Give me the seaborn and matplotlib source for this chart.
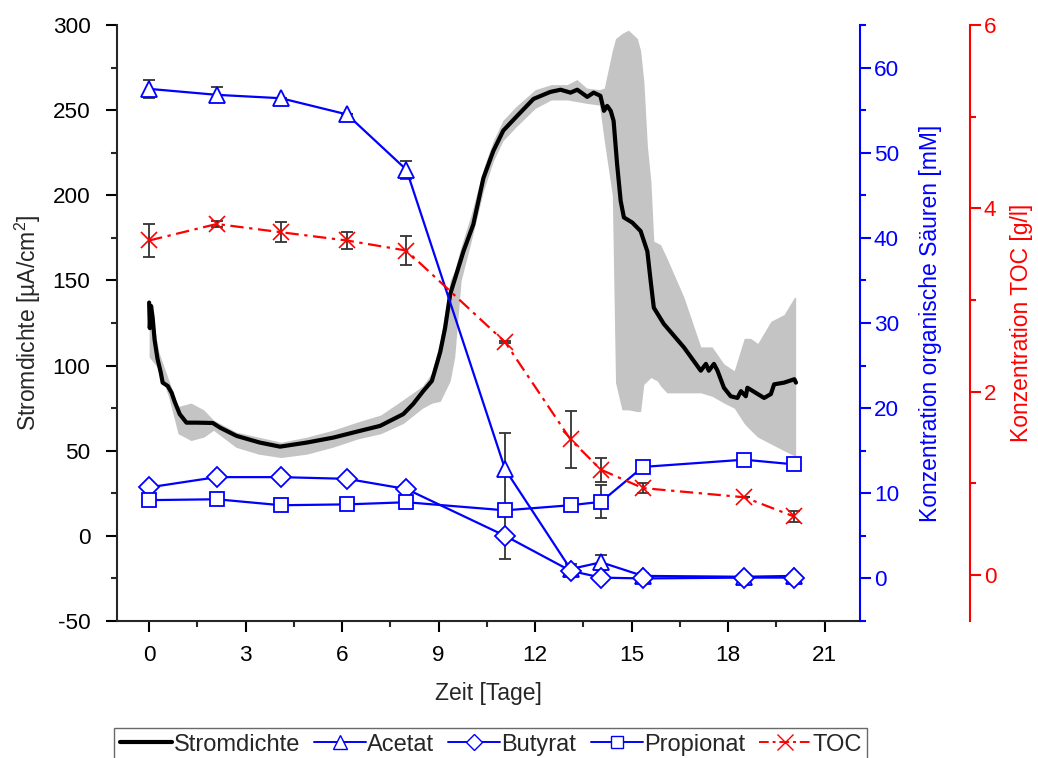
import matplotlib
matplotlib.use("Agg")
import matplotlib.pyplot as plt
import seaborn as sns
import numpy as np
from matplotlib.lines import Line2D
from matplotlib.ticker import MultipleLocator

# ---------------- data ----------------
# current density (Stromdichte) mean curve, µA/cm²
t_cd = [0.0, 0.02, 0.06, 0.11, 0.17, 0.26, 0.36, 0.42, 0.58, 0.70, 0.79, 0.95, 1.16, 1.47, 1.98,
        2.2, 2.72, 3.44, 4.07, 4.9, 5.72, 6.56, 7.18, 7.9, 8.21, 8.52, 8.79, 9.05, 9.2, 9.36,
        9.52, 9.77, 10.08, 10.39, 10.7, 11.01, 11.44, 11.95, 12.47, 12.79, 13.1, 13.31, 13.62,
        13.82, 14.03, 14.14, 14.24, 14.35, 14.44, 14.55, 14.66, 14.76, 15.02, 15.28, 15.49,
        15.59, 15.69, 16.0, 16.63, 17.15, 17.31, 17.4, 17.56, 17.67, 17.87, 18.08, 18.29, 18.4,
        18.55, 18.6, 18.92, 19.12, 19.33, 19.43, 19.74, 20.06, 20.11]
cd_mean = [137, 122, 135, 128, 115, 104, 96, 90, 88, 84, 79, 71.5, 66.5, 66.5, 66.3,
           63.6, 58.7, 54.8, 52.4, 54.8, 57.7, 61.7, 64.6, 71.5, 77.5, 85, 91, 108, 122, 142,
           151.7, 167, 183, 210, 226, 238, 246.6, 256.6, 260.7, 262, 260.3, 262, 257.8,
           260.3, 258.4, 249.6, 252.5, 249.6, 243.7, 218, 196.7, 187, 184, 179, 167,
           150, 134, 124.5, 110.6, 97, 101, 97, 101, 97, 87, 82, 81, 85,
           82, 87, 83.3, 81, 83.3, 89, 90, 92, 90]

# standard deviation band of the current density
t_band = [0.0, 0.3, 0.6, 0.9, 1.3, 1.7, 2.0, 2.7, 3.4, 4.1, 4.9, 5.7, 6.5, 7.2, 7.9, 8.5, 8.8,
          9.05, 9.36, 9.5, 9.7, 10.0, 10.4, 10.7, 11.0, 11.4, 12.0, 12.5, 13.0, 13.3, 13.6,
          14.0, 14.15, 14.4, 14.5, 14.7, 14.9, 15.18, 15.28, 15.38, 15.49, 15.6, 15.69, 15.8,
          15.9, 16.1, 16.63, 17.15, 17.5, 17.87, 18.19, 18.5, 18.7, 18.92, 19.33, 19.74, 20.06, 20.1]
cd_low = [105, 98, 82, 60, 56, 58, 62, 52, 48, 46, 48, 52, 57, 60, 66, 75, 78,
          79, 91, 105, 150, 172, 203, 220, 232, 240, 251, 256, 256, 255, 254,
          253, 232, 200, 90, 74, 74, 73, 73, 89, 91, 93, 92, 91,
          88, 84, 84, 84, 82, 78, 75, 66, 62, 58, 54, 50, 47, 47]
cd_high = [140, 108, 92, 76, 78, 74, 68, 61, 58, 55, 58, 62, 67, 71, 80, 88, 96,
           115, 150, 156, 170, 188, 216, 232, 244, 252, 262, 265, 265, 268, 263,
           262, 263, 285, 292, 295, 297, 292, 285, 267, 229, 208, 173, 172,
           171, 163, 140, 111, 111, 101, 97, 116, 116, 113, 126, 130, 140, 140]

# organic acids (mM) and TOC (g/l)
t_samp = [0.0, 2.1, 4.1, 6.15, 8.0, 11.07, 13.1, 14.05, 15.35, 18.5, 20.05]
acetat = [57.5, 56.8, 56.4, 54.5, 48.0, 12.8, 1.1, 1.9, 0.3, 0.2, 0.3]
acetat_err = [1.1, 0.9, 0, 0, 1.05, 4.3, 0.65, 0.9, 0.3, 0, 0]
butyrat = [10.7, 11.9, 11.9, 11.7, 10.5, 5.0, 0.9, 0.1, 0.0, 0.1, 0.1]
butyrat_err = [0, 0.2, 0.1, 0, 0.25, 2.7, 0, 0, 0, 0, 0]
propionat = [9.2, 9.3, 8.6, 8.7, 8.95, 8.0, 8.6, 9.0, 13.1, 13.95, 13.4]
propionat_err = [0, 0, 0, 0, 0, 0, 0, 1.94, 0, 0, 0]
toc = [3.65, 3.83, 3.74, 3.65, 3.54, 2.54, 1.48, 1.15, 0.95, 0.85, 0.64]
toc_err = [0.18, 0.03, 0.11, 0.09, 0.16, 0.01, 0.31, 0.13, 0.05, 0, 0.06]

x_ticks = [0, 3, 6, 9, 12, 15, 18, 21]

# ---------------- style ----------------
sns.set_style("ticks")
plt.rcParams["font.family"] = ["Liberation Sans", "DejaVu Sans"]
plt.rcParams["mathtext.fontset"] = "custom"
plt.rcParams["mathtext.rm"] = "Liberation Sans"
plt.rcParams["mathtext.it"] = "Liberation Sans:italic"
plt.rcParams["axes.unicode_minus"] = False
FS = 16.2
FS_LAB = 16.5
BLUE = "#0000FF"
RED = "#FF0000"
ERRC = "#333333"

fig = plt.figure(figsize=(10.38, 7.58), dpi=100)
ax = fig.add_axes([0.1127, 0.1807, 0.8285 - 0.1127, 0.967 - 0.1807])
ax2 = ax.twinx()
ax3 = ax.twinx()
ax3.spines["right"].set_position(("outward", 110 * 0.72))

# ---- current density ----
ax.fill_between(t_band, cd_low, cd_high, color="#C4C4C4", lw=0, zorder=1)
sns.lineplot(x=t_cd, y=cd_mean, ax=ax, color="black", lw=3.0, sort=False,
             estimator=None, zorder=3)

# ---- organic acids ----
eb = dict(fmt="none", ecolor=ERRC, elinewidth=1.3, capsize=4.5, capthick=1.3, zorder=2)
ax2.errorbar(t_samp, acetat, yerr=acetat_err, **eb)
ax2.errorbar(t_samp, butyrat, yerr=butyrat_err, **eb)
ax2.errorbar(t_samp, propionat, yerr=propionat_err, **eb)
sns.lineplot(x=t_samp, y=acetat, ax=ax2, color=BLUE, lw=1.6, marker="^",
             markeredgecolor=BLUE, sort=False, estimator=None, zorder=4,
             markersize=11.5, markerfacecolor="white", markeredgewidth=1.3)
sns.lineplot(x=t_samp, y=butyrat, ax=ax2, color=BLUE, lw=1.6, marker="D",
             markeredgecolor=BLUE, sort=False, estimator=None, zorder=4,
             markersize=10, markerfacecolor="white", markeredgewidth=1.3)
sns.lineplot(x=t_samp, y=propionat, ax=ax2, color=BLUE, lw=1.6, marker="s",
             markeredgecolor=BLUE, sort=False, estimator=None, zorder=4,
             markersize=9.5, markerfacecolor="white", markeredgewidth=1.3)

# ---- TOC ----
ax3.errorbar(t_samp, toc, yerr=toc_err, **eb)
sns.lineplot(x=t_samp, y=toc, ax=ax3, color=RED, lw=1.6, marker="x", markersize=12,
             markeredgecolor=RED, markeredgewidth=1.2, sort=False, estimator=None, zorder=4)
ax3.lines[-1].set_linestyle((0, (6, 2.5, 1.5, 2.5)))

# ---------------- axes ----------------
ax.set_xlim(-1.0, 22.1)
ax.set_ylim(-50, 300)
ax2.set_ylim(-5, 65)
ax3.set_ylim(-0.5, 6)

ax.set_xticks(x_ticks)
ax.xaxis.set_minor_locator(MultipleLocator(1.5))
ax.yaxis.set_major_locator(MultipleLocator(50))
ax.yaxis.set_minor_locator(MultipleLocator(25))
ax2.set_yticks([0, 10, 20, 30, 40, 50, 60])
ax2.yaxis.set_minor_locator(MultipleLocator(5))
ax3.set_yticks([0, 2, 4, 6])
ax3.yaxis.set_minor_locator(MultipleLocator(1))

for a in (ax, ax2, ax3):
    a.spines["top"].set_visible(False)
ax.spines["right"].set_visible(False)
for s in ("left", "bottom"):
    ax2.spines[s].set_visible(False)
    ax3.spines[s].set_visible(False)
ax.spines["left"].set_linewidth(1.5)
ax.spines["bottom"].set_linewidth(1.5)
ax2.spines["right"].set_color(BLUE)
ax2.spines["right"].set_linewidth(1.5)
ax3.spines["right"].set_color(RED)
ax3.spines["right"].set_linewidth(1.5)

ax.tick_params(axis="both", which="major", direction="out", length=8, width=1.5,
               labelsize=FS, colors="black")
ax.tick_params(axis="both", which="minor", direction="out", length=4.5, width=1.5)
ax.tick_params(axis="x", pad=9)
ax.tick_params(axis="y", pad=11)
ax2.tick_params(axis="y", which="major", direction="out", length=8, width=1.5,
                labelsize=FS, colors=BLUE, pad=2)
ax2.tick_params(axis="y", which="minor", direction="out", length=4.5, width=1.5, colors=BLUE)
ax3.tick_params(axis="y", which="major", direction="out", length=8, width=1.5,
                labelsize=FS, colors=RED, pad=2)
ax3.tick_params(axis="y", which="minor", direction="out", length=4.5, width=1.5, colors=RED)

ax.set_xlabel("Zeit [Tage]", fontsize=FS_LAB, labelpad=12)
ax.set_ylabel("Stromdichte [µA/cm$^2$]", fontsize=FS_LAB, labelpad=7)
ax2.set_ylabel("Konzentration organische Säuren [mM]", fontsize=FS_LAB, color=BLUE,
               labelpad=14)
ax3.set_ylabel("Konzentration TOC [g/l]", fontsize=FS_LAB, color=RED, labelpad=10)

# ---------------- legend ----------------
handles = [
    Line2D([], [], color="black", lw=3.0),
    Line2D([], [], color=BLUE, lw=1.4, marker="^", markersize=10, markerfacecolor="white",
           markeredgecolor=BLUE),
    Line2D([], [], color=BLUE, lw=1.4, marker="D", markersize=8.5, markerfacecolor="white",
           markeredgecolor=BLUE),
    Line2D([], [], color=BLUE, lw=1.4, marker="s", markersize=8, markerfacecolor="white",
           markeredgecolor=BLUE),
    Line2D([], [], color=RED, lw=1.4, marker="x", markersize=11, ls=(0, (5, 2, 1.5, 2))),
]
labels = ["Stromdichte", "Acetat", "Butyrat", "Propionat", "TOC"]
leg = fig.legend(handles, labels, loc="upper center", bbox_to_anchor=(0.473, 0.040),
                 ncol=5, fontsize=17, frameon=True, fancybox=False, handlelength=2.2,
                 handletextpad=0.05, columnspacing=0.6, borderpad=0.25, borderaxespad=0)
leg.get_frame().set_edgecolor("#444444")
leg.get_frame().set_linewidth(1.0)

fig.savefig("out.png", dpi=100)
